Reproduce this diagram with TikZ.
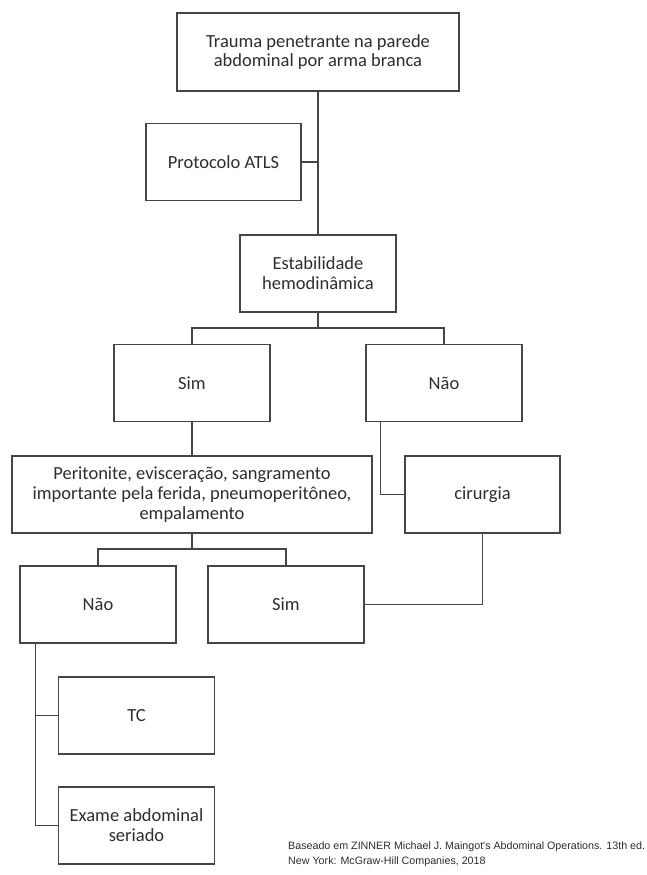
\documentclass[tikz,border=0pt]{standalone}
\usepackage{fontspec}
\setmainfont{Carlito}
\newfontfamily\citefont{Liberation Sans}
\definecolor{linegray}{HTML}{454545}
\definecolor{textgray}{HTML}{2E2E2E}
\begin{document}
\begin{tikzpicture}[x=1pt,y=-1pt,
  box/.style={draw=linegray, line width=1.4pt, rectangle, minimum width=156pt,
    minimum height=77pt, align=center, inner sep=0pt, text=textgray,
    font=\fontsize{18.5}{19.8}\selectfont},
  conn/.style={draw=linegray, line width=1.4pt}]
\useasboundingbox[fill=white] (0,0) rectangle (646,875);

\node[box, minimum width=282pt, minimum height=78pt] (A) at (318,52) {Trauma penetrante na parede\\abdominal por arma branca};
\node[box, minimum width=155pt] (B) at (223.5,162) {Protocolo ATLS};
\node[box] (C) at (318,273.5) {Estabilidade\\hemodinâmica};
\node[box] (D) at (192,383) {Sim};
\node[box] (E) at (444,383) {Não};
\node[box, minimum width=360pt] (F) at (192,494.5) {Peritonite, evisceração, sangramento\\importante pela ferida, pneumoperitôneo,\\empalamento};
\node[box, minimum width=155pt] (G) at (482.5,494.5) {cirurgia};
\node[box] (H) at (98,604.5) {Não};
\node[box] (I) at (286,604.5) {Sim};
\node[box] (J) at (136.5,715.5) {TC};
\node[box] (K) at (136.5,825.5) {Exame abdominal\\seriado};

\node[anchor=west, align=left, inner sep=0pt, text=textgray,
  font=\citefont\fontsize{10.7}{14.5}\selectfont] (cite) at (288,854)
  {Baseado em ZINNER Michael J. Maingot's Abdominal Operations. 13th ed.\\New York: McGraw-Hill Companies, 2018};

\coordinate (c1) at (318,328);
\coordinate (c2) at (192,549);

\draw[conn] (A.south) -- (C.north);
\draw[conn] (B.east) -- (B.east -| A.south);
\draw[conn] (C.south) -- (c1);
\draw[conn] (D.north) |- (c1) -| (E.north);
\draw[conn] (D.south) -- (F.north);
\draw[conn] ([xshift=15pt]E.south west) |- (G.west);
\draw[conn] (F.south) -- (c2);
\draw[conn] (H.north) |- (c2) -| (I.north);
\draw[conn] (G.south) |- (I.east);
\draw[conn] ([xshift=16pt]H.south west) |- (J.west);
\draw[conn] ([xshift=16pt]H.south west) |- (K.west);
\end{tikzpicture}
\end{document}
